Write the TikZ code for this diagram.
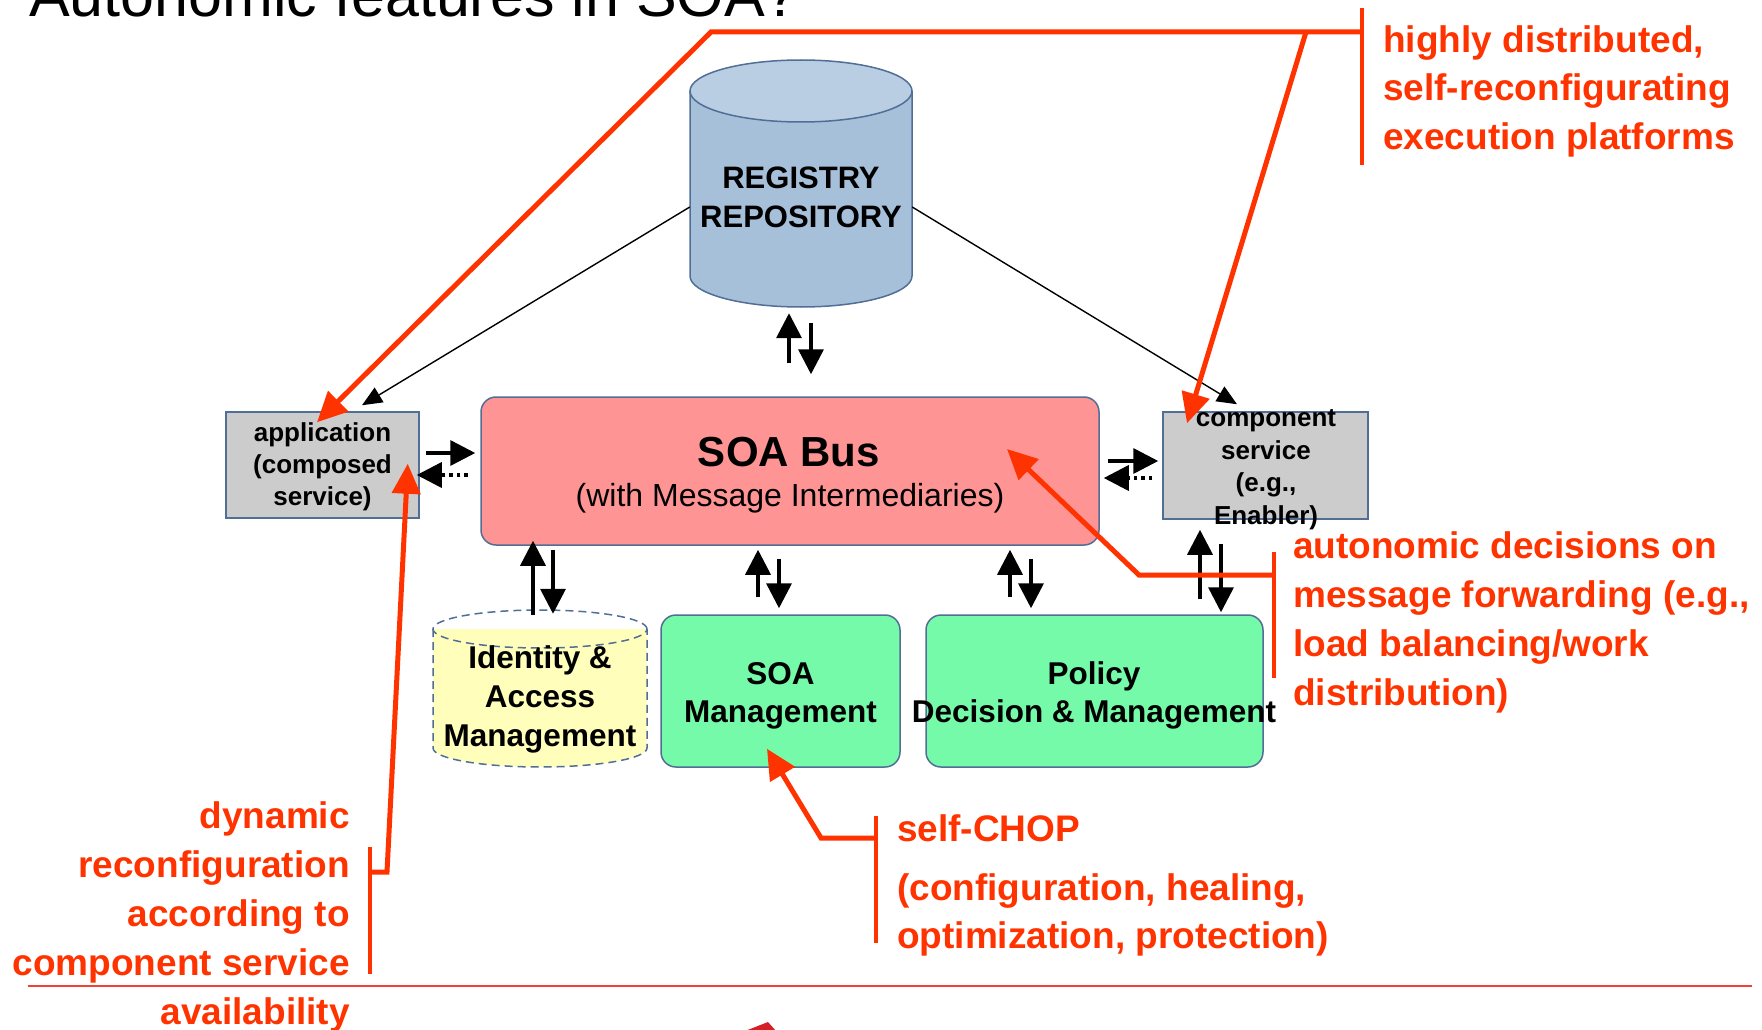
\documentclass[tikz,border=0pt]{standalone}
\usepackage{fontspec}
\setmainfont{Liberation Sans}
\usetikzlibrary{arrows.meta,calc}

\definecolor{busfill}{RGB}{255,148,148}
\definecolor{edgeblue}{RGB}{80,110,150}
\definecolor{boxgray}{RGB}{204,204,204}
\definecolor{mgmtgreen}{RGB}{116,250,168}
\definecolor{idmyellow}{RGB}{255,255,187}
\definecolor{cylbody}{RGB}{167,192,218}
\definecolor{cyltop}{RGB}{185,205,227}
\definecolor{annred}{RGB}{255,51,0}
\definecolor{rulered}{RGB}{240,64,56}
\definecolor{deepred}{RGB}{212,32,36}

\newcommand\fsz[2]{\fontsize{#1}{#2}\selectfont}

\begin{document}
\begin{tikzpicture}[x=1pt,y=-1pt,
  boxedge/.style={draw=edgeblue, line width=1.5pt},
  graybox/.style={boxedge, fill=boxgray, inner sep=0pt},
  greenbox/.style={boxedge, fill=mgmtgreen, rounded corners=15pt, inner sep=0pt},
  busbox/.style={boxedge, fill=busfill, rounded corners=15pt, inner sep=0pt},
  anchorbox/.style={inner sep=0pt},
  label/.style={inner sep=0pt, align=center, text=black},
  blk/.style={line width=3.5pt, -{Triangle[length=25pt,width=25pt]}},
  blkdot/.style={blk, dash pattern=on 3.5pt off 4pt},
  thinlink/.style={line width=1.4pt, -{Triangle[length=20pt,width=17pt]}},
  redarr/.style={draw=annred, line width=5pt, -{Triangle[length=30pt,width=28pt]}},
  bracket/.style={draw=annred, line width=4.5pt},
  note/.style={inner sep=0pt, text=annred, font=\fsz{37}{48.5}\bfseries}
]
\useasboundingbox (0,0) rectangle (1762,1030);

% heading
\node[anchor=base west, inner sep=0pt, font=\fsz{61}{70}] (title) at (29,17) {Autonomic features in SOA?};

% registry / repository cylinder
\fill[cylbody] (690,91) -- (690,276) arc[start angle=180,end angle=360,x radius=111pt,y radius=31pt] -- (912,91) -- cycle;
\draw[boxedge] (690,91) -- (690,276) arc[start angle=180,end angle=360,x radius=111pt,y radius=31pt] -- (912,91);
\filldraw[boxedge, fill=cyltop] (801,91) ellipse[x radius=111pt, y radius=31pt];
\node[anchorbox, minimum width=222pt, minimum height=247pt] (reg) at (801,183.5) {};
\node[label, font=\fsz{31}{39}\bfseries] (regtxt) at (801,197) {REGISTRY\\REPOSITORY};

% SOA bus
\node[busbox, minimum width=618pt, minimum height=148pt] (bus) at (790,471) {};
\node[anchor=base, inner sep=0pt, font=\fsz{42}{50}\bfseries] (bustitle) at (789,466) {SOA Bus};
\node[anchor=base, inner sep=0pt, font=\fsz{32}{38}] (bussub) at (790,506) {(with Message Intermediaries)};

% application
\node[graybox, minimum width=193pt, minimum height=106pt] (app) at (322.5,465) {};
\node[label, font=\fsz{26}{32}\bfseries] (apptxt) at (322.5,467) {application\\(composed\\service)};

% component service
\node[graybox, minimum width=205pt, minimum height=107pt] (comp) at (1265.5,465.5) {};
\node[label, font=\fsz{26}{32.5}\bfseries] (comptxt) at (1266,469.5) {component\\service\\(e.g.,\\Enabler)};

% identity & access management cylinder
\fill[idmyellow] (433,629) -- (433,748) arc[start angle=180,end angle=360,x radius=107pt,y radius=19pt] -- (647,629) -- cycle;
\draw[boxedge, dash pattern=on 8pt off 5pt] (433,629) -- (433,748) arc[start angle=180,end angle=360,x radius=107pt,y radius=19pt] -- (647,629);
\draw[boxedge, dash pattern=on 8pt off 5pt] (540,629) ellipse[x radius=107pt, y radius=19pt];
\node[anchorbox, minimum width=214pt, minimum height=157pt] (idm) at (540,688.5) {};
\node[label, font=\fsz{31.5}{39}\bfseries] (idmtxt) at (540,699.5) {Identity \&\\Access\\Management};

% management boxes
\node[greenbox, minimum width=239pt, minimum height=152pt] (soam) at (780.5,691) {};
\node[label, font=\fsz{31.5}{38}\bfseries] (soamtxt) at (780.5,696) {SOA\\Management};
\node[greenbox, minimum width=337pt, minimum height=152pt] (pol) at (1094.5,691) {};
\node[label, font=\fsz{31.5}{38}\bfseries] (poltxt) at (1094,695) {Policy\\Decision \& Management};

% registry links
\draw[thinlink] ($(reg.west)+(0,23.5)$) -- ($(app.north)+(39.5,-6)$);
\draw[thinlink] ($(reg.east)+(0,23.5)$) -- ($(comp.north)+(-28.5,-7)$);

% registry <-> bus
\draw[blk] ($(bus.north)+(-1,-33)$) -- ($(reg.south)+(-12,6)$);
\draw[blk] ($(reg.south)+(10,16)$) -- ($(bus.north)+(21,-22)$);

% application <-> bus
\draw[blk] ($(app.east)+(6,-12)$) -- ($(bus.west |- app.east)+(-5,-12)$);
\draw[blkdot] ($(app.east)+(48,10)$) -- ($(app.east)+(-3,10)$);

% bus <-> component
\draw[blk] ($(bus.east |- comp.west)+(8,-4.5)$) -- ($(comp.west)+(-4,-4.5)$);
\draw[blkdot] ($(comp.west)+(-10,12.5)$) -- ($(bus.east |- comp.west)+(4,12.5)$);

% bus <-> identity
\draw[blk] ($(idm.north)+(-7,5)$) -- ($(bus.south -| idm.north)+(-7,-5)$);
\draw[blk] ($(bus.south -| idm.north)+(13,4)$) -- ($(idm.north)+(13,4)$);

% bus <-> SOA management
\draw[blk] ($(soam.north)+(-22.5,-17)$) -- ($(bus.south -| soam.north)+(-22.5,4)$);
\draw[blk] ($(bus.south -| soam.north)+(-1.5,13)$) -- ($(soam.north)+(-1.5,-6)$);

% bus <-> policy
\draw[blk] ($(pol.north)+(-84.5,-17)$) -- ($(bus.south -| pol.north)+(-84.5,4)$);
\draw[blk] ($(bus.south -| pol.north)+(-63.5,13)$) -- ($(pol.north)+(-63.5,-6)$);

% component <-> policy
\draw[blk] ($(pol.north)+(105.5,-15)$) -- ($(comp.south)+(-65.5,10)$);
\draw[blk] ($(comp.south)+(-44.5,24)$) -- ($(pol.north)+(126.5,-2)$);

% annotations
\node[note, anchor=north west, align=left] (hd) at (1383,25) {highly distributed,\\self-reconfigurating\\execution platforms};
\node[note, anchor=north west, align=left, font=\fsz{37}{49}\bfseries] (ad) at (1293,531.5) {autonomic decisions on\\message forwarding (e.g.,\\load balancing/work\\distribution)};
\node[note, anchor=north east, align=right, font=\fsz{37}{49}\bfseries] (dyn) at (350,801.5) {dynamic\\reconfiguration\\according to\\component service\\availability};
\node[note, anchor=north west, align=left, font=\fsz{37}{47.5}\bfseries] (chop) at (897,814) {self-CHOP\\[12pt](configuration, healing,\\optimization, protection)};

\coordinate (hdcorner) at (711,32);

% annotation brackets
\draw[bracket] ($(hd.north west)+(-21,-17)$) -- ($(hd.north west)+(-21,140)$);
\draw[bracket] ($(ad.north west)+(-19,20.5)$) -- ($(ad.north west)+(-19,146.5)$);
\draw[bracket] ($(dyn.north east)+(20,45.5)$) -- ($(dyn.north east)+(20,172.5)$);
\draw[bracket] ($(chop.north west)+(-21,2)$) -- ($(chop.north west)+(-21,129)$);

% annotation pointers
\draw[redarr] ($(hd.north west)+(-21,7)$) -- (hdcorner) -- ($(app.north)+(-5.5,11)$);
\draw[redarr] ($(hd.north west)+(-77,7)$) -- ($(comp.north)+(-78.5,12)$);
\draw[redarr] ($(ad.north west)+(-19,43.5)$) -- ($(ad.north west)+(-154,43.5)$) -- ($(bus.center)+(217,-22)$);
\draw[redarr] ($(dyn.north east)+(20,70.5)$) -- ($(dyn.north east)+(37,70.5)$) -- ($(app.south east)+(-12,-55)$);
\draw[redarr] ($(chop.north west)+(-21,24)$) -- ($(chop.north west)+(-76,24)$) -- ($(soam.south)+(-13.5,-19)$);

% footer rule and the edge of a shape below it
\draw[rulered, line width=2pt] (28,986) -- (1752,986);
\fill[deepred] (745,1031) -- (768,1022) -- (776,1031) -- cycle;
\end{tikzpicture}
\end{document}
